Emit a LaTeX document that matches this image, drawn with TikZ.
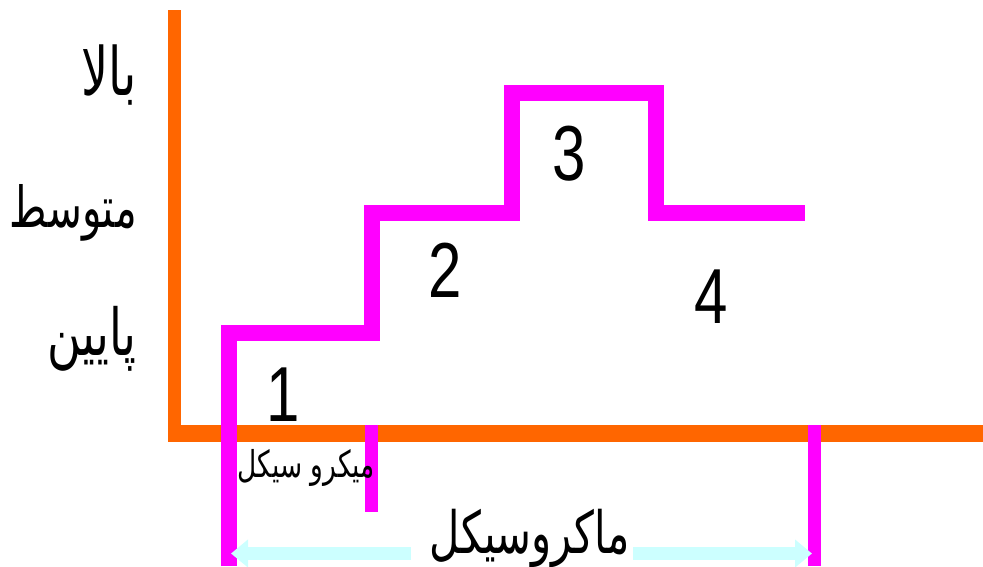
\documentclass[tikz,border=0pt]{standalone}
\usepackage{fontspec}
\usepackage{graphicx}
\setmainfont{Liberation Sans}
\newfontfamily\arabicfont[Script=Arabic]{DejaVu Sans}
\TeXXeTstate=1
\usetikzlibrary{arrows.meta}
\definecolor{axisorange}{HTML}{FF6600}
\definecolor{stepmag}{HTML}{FF00FF}
\definecolor{arrowcyan}{HTML}{CCFFFF}
\tikzset{
  axisline/.style={draw=axisorange, line cap=butt},
  stepline/.style={draw=stepmag, line width=16pt, line join=miter, line cap=butt},
  tickline/.style={draw=stepmag, line width=13pt, line cap=butt},
  spanarrow/.style={draw=arrowcyan, line width=13pt, -{Triangle[length=17pt,width=27pt]}},
  digit/.style={inner sep=0pt, anchor=base, font=\fontsize{60}{60}\selectfont},
  farsi/.style={inner sep=0pt, anchor=base east},
}
\newcommand{\fa}[2]{\scalebox{1}[1.4]{\resizebox{#1}{!}{\arabicfont #2}}}
\begin{document}
\begin{tikzpicture}[x=1pt,y=-1pt]
\useasboundingbox (0,0) rectangle (983,566);
% axes
\coordinate (yaxtop) at (174.5,10);
\coordinate (yaxbot) at (174.5,442);
\coordinate (xaxl) at (168,433.5);
\coordinate (xaxr) at (983,433.5);
\draw[axisline, line width=13pt] (yaxtop) -- (yaxbot);
\draw[axisline, line width=17pt] (xaxl) -- (xaxr);
% step line
\coordinate (s0) at (228.5,566);
\coordinate (s1) at (228.5,333);
\coordinate (s2) at (371.5,333);
\coordinate (s3) at (371.5,213);
\coordinate (s4) at (512,213);
\coordinate (s5) at (512,93);
\coordinate (s6) at (655.5,93);
\coordinate (s7) at (655.5,213);
\coordinate (s8) at (805,213);
\draw[stepline] (s0) -- (s1) -- (s2) -- (s3) -- (s4) -- (s5) -- (s6) -- (s7) -- (s8);
% ticks
\coordinate (t1a) at (371.5,425);
\coordinate (t1b) at (371.5,512);
\coordinate (t2a) at (814.5,425);
\coordinate (t2b) at (814.5,566);
\draw[tickline] (t1a) -- (t1b);
\draw[tickline] (t2a) -- (t2b);
% span arrows
\coordinate (la) at (411,553.5);
\coordinate (lb) at (231,553.5);
\coordinate (ra) at (633,553.5);
\coordinate (rb) at (812,553.5);
\draw[spanarrow] (la) -- (lb);
\draw[spanarrow] (ra) -- (rb);
% digits
\node[digit] (d1) at (283,421) {\scalebox{1}[1.3]{1}};
\node[digit] (d2) at (445,297) {\scalebox{1}[1.3]{2}};
\node[digit] (d3) at (569,180) {\scalebox{1}[1.3]{3}};
\node[digit] (d4) at (711,323) {\scalebox{1}[1.3]{4}};
% level labels
\node[farsi] (high) at (137,95) {\fa{55pt}{\beginR بالا\endR}};
\node[farsi] (mid) at (137,227) {\fa{127pt}{\beginR متوسط\endR}};
\node[farsi] (low) at (137,355) {\fa{89pt}{\beginR پایین\endR}};
% cycle labels
\node[farsi] (micro) at (375,477) {\fa{137pt}{\beginR میکرو سیکل\endR}};
\node[farsi] (macro) at (630,553) {\fa{200pt}{\beginR ماکروسیکل\endR}};
\end{tikzpicture}
\end{document}
